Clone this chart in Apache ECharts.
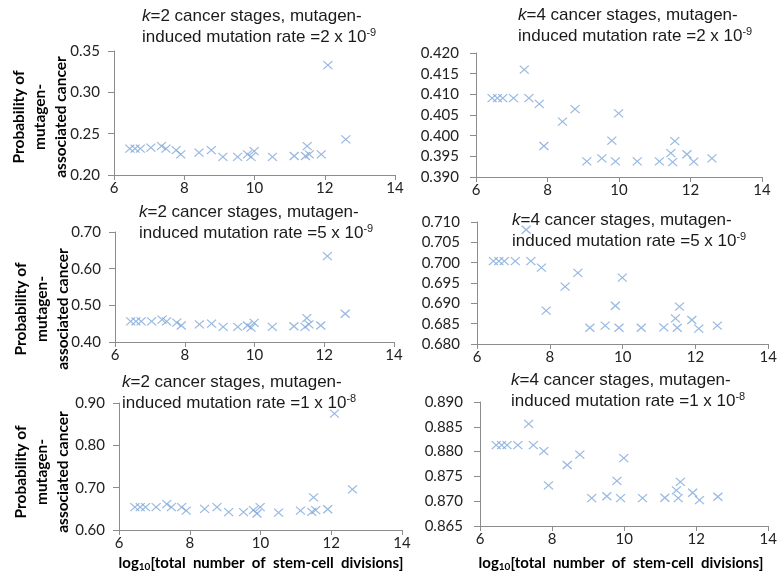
<!DOCTYPE html>
<html lang="en">
<head>
<meta charset="UTF-8">
<title>mutagen-associated cancer</title>
<style>
    body{margin:0;background:#fff;}
    #main{width:780px;height:575px;}
</style>
</head>
<body>
<div id="main"></div>
<script src="https://cdn.jsdelivr.net/npm/echarts@6/dist/echarts.min.js"></script>
<script>
// log10 of total stem-cell divisions, same tissues in every panel
var divisions = [6.45, 6.6, 6.75, 7.05, 7.35, 7.48, 7.77, 7.9, 8.42, 8.77, 9.1, 9.52,
    9.8, 9.9, 9.99, 10.51, 11.13, 11.45, 11.5, 11.56, 11.9, 12.09, 12.6];

// k=2
var k2Rate2e9 = [0.232, 0.232, 0.232, 0.233, 0.235, 0.232, 0.230, 0.225, 0.227, 0.230, 0.222, 0.222,
    0.225, 0.222, 0.229, 0.222, 0.223, 0.223, 0.235, 0.225, 0.225, 0.333, 0.243];
var k2Rate5e9 = [0.456, 0.456, 0.456, 0.456, 0.461, 0.456, 0.453, 0.445, 0.448, 0.450, 0.441, 0.441,
    0.445, 0.439, 0.452, 0.441, 0.443, 0.441, 0.465, 0.448, 0.445, 0.634, 0.477];
var k2Rate1e8 = [0.654, 0.654, 0.654, 0.654, 0.661, 0.654, 0.654, 0.646, 0.650, 0.654, 0.642, 0.642,
    0.647, 0.639, 0.654, 0.641, 0.646, 0.643, 0.677, 0.647, 0.649, 0.875, 0.696];
// k=4
var k4Rate2e9 = [0.4091, 0.4091, 0.4091, 0.4091, 0.4160, 0.4091, 0.4077, 0.3975, 0.4034, 0.4064, 0.3938, 0.3945,
    0.3988, 0.3938, 0.4054, 0.3938, 0.3938, 0.3958, 0.3936, 0.3987, 0.3955, 0.3937, 0.3945];
var k4Rate5e9 = [0.7004, 0.7004, 0.7004, 0.7004, 0.7081, 0.7004, 0.6988, 0.6882, 0.6941, 0.6975, 0.6840, 0.6845,
    0.6894, 0.6840, 0.6963, 0.6840, 0.6841, 0.6863, 0.6840, 0.6892, 0.6859, 0.6838, 0.6845];
var k4Rate1e8 = [0.8813, 0.8813, 0.8813, 0.8813, 0.8856, 0.8813, 0.8801, 0.8732, 0.8773, 0.8794, 0.8706, 0.8710,
    0.8741, 0.8706, 0.8787, 0.8706, 0.8707, 0.8722, 0.8706, 0.8739, 0.8717, 0.8702, 0.8709];

var panelSeries = [k2Rate2e9, k4Rate2e9, k2Rate5e9, k4Rate5e9, k2Rate1e8, k4Rate1e8];
var panelK = ['2', '4', '2', '4', '2', '4'];
var panelRate = ['2 x 10', '2 x 10', '5 x 10', '5 x 10', '1 x 10', '1 x 10'];
var panelExp = ['-9', '-9', '-9', '-9', '-8', '-8'];
// y axis ranges [min, max, interval, decimals]
var yRanges = [[0.20, 0.35, 0.05, 2], [0.390, 0.420, 0.005, 3],
    [0.40, 0.70, 0.1, 2], [0.680, 0.710, 0.005, 3],
    [0.60, 0.90, 0.1, 2], [0.865, 0.890, 0.005, 3]];
var xTicks = [6, 14, 2];

var grids = [
    {left: 114, top: 51, width: 281, height: 124},
    {left: 476, top: 53, width: 286, height: 124},
    {left: 115, top: 232, width: 279, height: 110},
    {left: 477, top: 222, width: 293, height: 122},
    {left: 119, top: 403, width: 283, height: 127},
    {left: 480, top: 402, width: 290, height: 124}
];
var titlePos = [[142, 8], [518, 7], [139, 204], [512, 212], [122, 374], [511, 372]];

var axisColor = '#8c8c8c';
var labelFont = 'Lato, "Liberation Sans", Arial, sans-serif';
var titleFont = '"Liberation Sans", Arial, sans-serif';
var markColor = '#7ea7da';

var xAxes = [], yAxes = [], series = [], graphics = [];
for (var i = 0; i < 6; i++) {
    var r = yRanges[i];
    xAxes.push({
        gridIndex: i, type: 'value', min: xTicks[0], max: xTicks[1], interval: xTicks[2],
        axisLine: {lineStyle: {color: axisColor}},
        axisTick: {inside: false, length: 5, lineStyle: {color: axisColor}},
        axisLabel: {color: '#222', fontFamily: labelFont, fontSize: 15, margin: 6},
        splitLine: {show: false}
    });
    yAxes.push({
        gridIndex: i, type: 'value', min: r[0], max: r[1], interval: r[2],
        axisLine: {show: true, lineStyle: {color: axisColor}},
        axisTick: {show: true, inside: false, length: 6, lineStyle: {color: axisColor}},
        axisLabel: {
            color: '#222', fontFamily: labelFont, fontSize: 15, margin: i % 2 ? 17 : 14,
            formatter: (function (d) { return function (v) { return v.toFixed(d); }; })(r[3])
        },
        splitLine: {show: false}
    });
    series.push({
        type: 'scatter', xAxisIndex: i, yAxisIndex: i,
        symbol: 'path://M0,0L10,10M10,0L0,10',
        symbolSize: [9, 8],
        itemStyle: {color: 'rgba(0,0,0,0)', borderColor: markColor, borderWidth: 1.2},
        data: divisions.map(function (x, j) { return [x, panelSeries[i][j]]; })
    });
    graphics.push({
        type: 'text', left: titlePos[i][0], top: titlePos[i][1], z: 10,
        style: {
            text: '{it|k}{n|=' + panelK[i] + ' cancer stages, mutagen-}\n{n|induced mutation rate =' + panelRate[i] + '}{sup|' + panelExp[i] + '}',
            fill: '#1a1a1a',
            rich: {
                it: {fontStyle: 'italic', fontSize: 17, fontFamily: titleFont, lineHeight: 21},
                n: {fontSize: 17, fontFamily: titleFont, lineHeight: 21},
                sup: {fontSize: 11, fontFamily: titleFont, lineHeight: 21, verticalAlign: 'top', padding: [0, 0, 7, 0]}
            }
        }
    });
}

// y axis names on the left column
var yNameCenters = [[40, 117], [42, 309], [42, 472]];
yNameCenters.forEach(function (c) {
    graphics.push({
        type: 'text', x: c[0], y: c[1], rotation: Math.PI / 2,
        style: {
            text: 'Probability of\nmutagen-\nassociated cancer',
            font: 'bold 15.5px ' + labelFont, lineHeight: 21,
            fill: '#000', align: 'center', verticalAlign: 'middle'
        }
    });
});
// x axis names under the bottom row
[[261, 563], [621, 563]].forEach(function (c) {
    graphics.push({
        type: 'text', x: c[0], y: c[1],
        style: {
            text: '{b|log}{s|10}{b|[total  number  of  stem-cell  divisions]}',
            fill: '#000', align: 'center', verticalAlign: 'middle',
            rich: {
                b: {fontWeight: 'bold', fontSize: 15, fontFamily: labelFont, lineHeight: 18},
                s: {fontWeight: 'bold', fontSize: 10, fontFamily: labelFont, lineHeight: 18, verticalAlign: 'bottom', padding: [6, 0, 0, 0]}
            }
        }
    });
});

var myChart = echarts.init(document.getElementById('main'));
myChart.setOption({
    animation: false,
    grid: grids,
    xAxis: xAxes,
    yAxis: yAxes,
    series: series,
    graphic: graphics
});
</script>
</body>
</html>
